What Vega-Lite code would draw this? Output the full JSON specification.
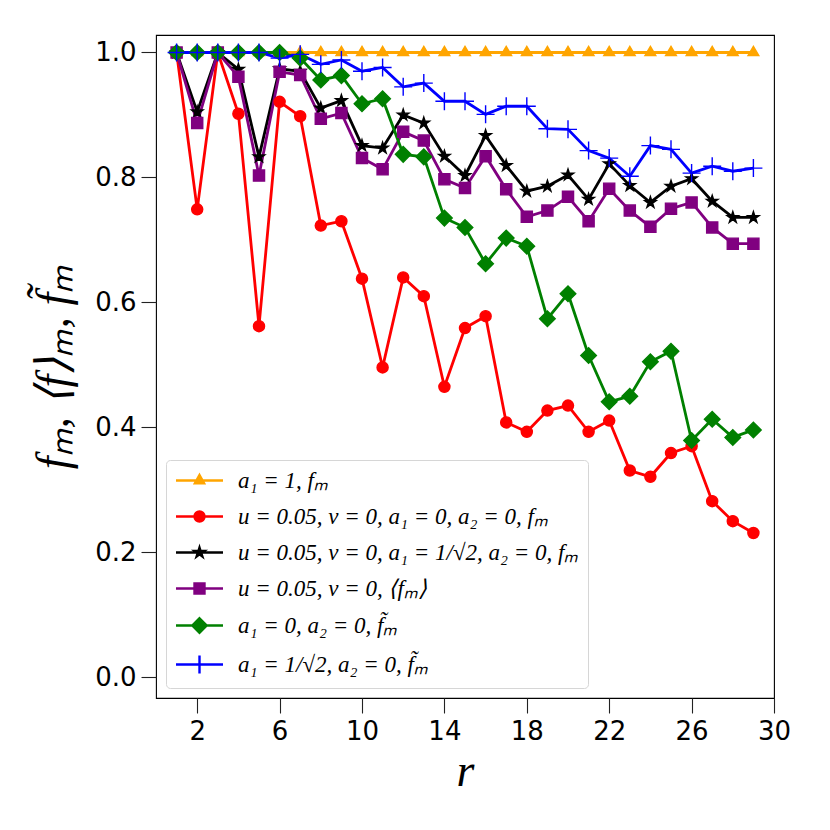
{
  "$schema": "https://vega.github.io/schema/vega-lite/v6.json",
  "autosize": {"type": "none"},
  "padding": {"left": 156, "top": 35, "right": 56, "bottom": 132},
  "width": 618,
  "height": 663,
  "background": "white",
  "data": {
    "values": [
      {"r": 1, "s1": 1, "s2": 1.0, "s3": 1.0, "s4": 1.0, "s5": 1.0, "s6": 1.0},
      {"r": 2, "s1": 1, "s2": 0.749, "s3": 0.905, "s4": 0.887, "s5": 1.0, "s6": 1.0},
      {"r": 3, "s1": 1, "s2": 1.0, "s3": 1.0, "s4": 1.0, "s5": 1.0, "s6": 1.0},
      {"r": 4, "s1": 1, "s2": 0.902, "s3": 0.973, "s4": 0.961, "s5": 1.0, "s6": 1.0},
      {"r": 5, "s1": 1, "s2": 0.562, "s3": 0.833, "s4": 0.803, "s5": 1.0, "s6": 1.0},
      {"r": 6, "s1": 1, "s2": 0.921, "s3": 0.974, "s4": 0.969, "s5": 1.0, "s6": 0.991},
      {"r": 7, "s1": 1, "s2": 0.898, "s3": 0.970, "s4": 0.964, "s5": 0.991, "s6": 0.997},
      {"r": 8, "s1": 1, "s2": 0.723, "s3": 0.911, "s4": 0.894, "s5": 0.956, "s6": 0.981},
      {"r": 9, "s1": 1, "s2": 0.730, "s3": 0.923, "s4": 0.903, "s5": 0.963, "s6": 0.988},
      {"r": 10, "s1": 1, "s2": 0.638, "s3": 0.851, "s4": 0.831, "s5": 0.918, "s6": 0.970},
      {"r": 11, "s1": 1, "s2": 0.496, "s3": 0.847, "s4": 0.813, "s5": 0.926, "s6": 0.976},
      {"r": 12, "s1": 1, "s2": 0.640, "s3": 0.900, "s4": 0.873, "s5": 0.837, "s6": 0.945},
      {"r": 13, "s1": 1, "s2": 0.610, "s3": 0.887, "s4": 0.859, "s5": 0.833, "s6": 0.951},
      {"r": 14, "s1": 1, "s2": 0.465, "s3": 0.834, "s4": 0.797, "s5": 0.735, "s6": 0.922},
      {"r": 15, "s1": 1, "s2": 0.559, "s3": 0.803, "s4": 0.783, "s5": 0.720, "s6": 0.922},
      {"r": 16, "s1": 1, "s2": 0.578, "s3": 0.867, "s4": 0.834, "s5": 0.662, "s6": 0.901},
      {"r": 17, "s1": 1, "s2": 0.408, "s3": 0.819, "s4": 0.781, "s5": 0.703, "s6": 0.914},
      {"r": 18, "s1": 1, "s2": 0.393, "s3": 0.778, "s4": 0.737, "s5": 0.690, "s6": 0.914},
      {"r": 19, "s1": 1, "s2": 0.427, "s3": 0.786, "s4": 0.747, "s5": 0.574, "s6": 0.878},
      {"r": 20, "s1": 1, "s2": 0.435, "s3": 0.804, "s4": 0.769, "s5": 0.614, "s6": 0.877},
      {"r": 21, "s1": 1, "s2": 0.393, "s3": 0.765, "s4": 0.730, "s5": 0.515, "s6": 0.843},
      {"r": 22, "s1": 1, "s2": 0.411, "s3": 0.822, "s4": 0.782, "s5": 0.441, "s6": 0.831},
      {"r": 23, "s1": 1, "s2": 0.331, "s3": 0.787, "s4": 0.747, "s5": 0.450, "s6": 0.802},
      {"r": 24, "s1": 1, "s2": 0.321, "s3": 0.760, "s4": 0.721, "s5": 0.505, "s6": 0.851},
      {"r": 25, "s1": 1, "s2": 0.359, "s3": 0.786, "s4": 0.750, "s5": 0.522, "s6": 0.845},
      {"r": 26, "s1": 1, "s2": 0.370, "s3": 0.798, "s4": 0.760, "s5": 0.379, "s6": 0.807},
      {"r": 27, "s1": 1, "s2": 0.282, "s3": 0.762, "s4": 0.720, "s5": 0.413, "s6": 0.818},
      {"r": 28, "s1": 1, "s2": 0.250, "s3": 0.736, "s4": 0.694, "s5": 0.384, "s6": 0.810},
      {"r": 29, "s1": 1, "s2": 0.231, "s3": 0.736, "s4": 0.694, "s5": 0.396, "s6": 0.815}
    ]
  },
  "transform": [
    {"fold": ["s1", "s2", "s3", "s4", "s5", "s6"], "as": ["series", "value"]}
  ],
  "encoding": {
    "x": {
      "field": "r",
      "type": "quantitative",
      "title": "r",
      "scale": {"domain": [0, 30], "nice": false, "zero": false},
      "axis": {
        "values": [2, 6, 10, 14, 18, 22, 26, 30],
        "titleFont": "Liberation Serif",
        "titleFontStyle": "italic",
        "titleFontWeight": "normal",
        "titleFontSize": 46,
        "titlePadding": 5
      }
    },
    "y": {
      "field": "value",
      "type": "quantitative",
      "title": "fₘ, ⟨f⟩ₘ, f̃ₘ",
      "scale": {"domain": [-0.033, 1.028], "nice": false, "zero": false},
      "axis": {
        "values": [0, 0.2, 0.4, 0.6, 0.8, 1.0],
        "format": ".1f",
        "titleFont": "Liberation Serif",
        "titleFontStyle": "italic",
        "titleFontWeight": "normal",
        "titleFontSize": 46,
        "titlePadding": 17
      }
    },
    "color": {
      "field": "series",
      "type": "nominal",
      "scale": {
        "domain": ["s1", "s2", "s3", "s4", "s5", "s6"],
        "range": ["#FFA500", "#FF0000", "#000000", "#800080", "#008000", "#0000FF"]
      }
    }
  },
  "layer": [
    {
      "mark": {"type": "line", "strokeWidth": 2.8},
      "encoding": {
        "color": {
          "field": "series",
          "type": "nominal",
          "legend": {
            "orient": "bottom-left",
            "offset": 10,
            "title": null,
            "padding": 9,
            "rowPadding": 12,
            "symbolSize": 400,
            "symbolOffset": 13,
            "labelOffset": 27,
            "labelLimit": 0,
            "labelFont": "Liberation Serif",
            "labelFontStyle": "italic",
            "labelFontSize": 23,
            "labelColor": "#000",
            "strokeColor": "#d6d6d6",
            "fillColor": "rgba(255,255,255,0.8)",
            "cornerRadius": 4,
            "labelExpr": "datum.value == 's1' ? 'a₁ = 1, fₘ' : datum.value == 's2' ? 'u = 0.05, v = 0, a₁ = 0, a₂ = 0, fₘ' : datum.value == 's3' ? 'u = 0.05, v = 0, a₁ = 1/√2, a₂ = 0, fₘ' : datum.value == 's4' ? 'u = 0.05, v = 0, ⟨fₘ⟩' : datum.value == 's5' ? 'a₁ = 0, a₂ = 0, f̃ₘ' : 'a₁ = 1/√2, a₂ = 0, f̃ₘ'",
            "encode": {
              "symbols": {
                "update": {
                  "shape": {"signal": "datum.value == 's1' ? 'M-2.35,0H2.35M0,-0.55L0.46,0.27L-0.46,0.27Z' : datum.value == 's2' ? 'M-2.35,0H2.35M0.5,0A0.5,0.5,0,1,1,-0.5,0A0.5,0.5,0,1,1,0.5,0Z' : datum.value == 's3' ? 'M-2.35,0H2.35M0,-0.5L0.11,-0.15L0.48,-0.15L0.18,0.06L0.29,0.4L0,0.19L-0.29,0.4L-0.18,0.06L-0.48,-0.15L-0.11,-0.15Z' : datum.value == 's4' ? 'M-2.35,0H2.35M-0.5,-0.5H0.5V0.5H-0.5Z' : datum.value == 's5' ? 'M-2.35,0H2.35M0,-0.72L0.72,0L0,0.72L-0.72,0Z' : 'M-2.35,0H2.35M0,-0.9V0.9'"},
                  "fill": {"scale": "color", "field": "value"},
                  "stroke": {"scale": "color", "field": "value"},
                  "strokeWidth": {"value": 2.4},
                  "opacity": {"value": 1}
                }
              }
            }
          }
        }
      }
    },
    {
      "mark": {"type": "point", "filled": true, "opacity": 1, "size": 400, "strokeWidth": 1.4},
      "encoding": {
        "color": {"field": "series", "type": "nominal", "legend": null},
        "shape": {
          "field": "series",
          "type": "nominal",
          "legend": null,
          "scale": {
            "domain": ["s1", "s2", "s3", "s4", "s5", "s6"],
            "range": [
              "M0,-0.62L0.54,0.31L-0.54,0.31Z",
              "M0.555,0A0.555,0.555,0,1,1,-0.555,0A0.555,0.555,0,1,1,0.555,0Z",
              "M0,-0.6L0.135,-0.185L0.57,-0.185L0.22,0.07L0.353,0.485L0,0.23L-0.353,0.485L-0.22,0.07L-0.57,-0.185L-0.135,-0.185Z",
              "M-0.555,-0.555H0.555V0.555H-0.555Z",
              "M0,-0.78L0.78,0L0,0.78L-0.78,0Z",
              "M-0.9,0H0.9M0,-0.9V0.9"
            ]
          }
        },
        "stroke": {
          "field": "series",
          "type": "nominal",
          "legend": null,
          "scale": {
            "domain": ["s1", "s2", "s3", "s4", "s5", "s6"],
            "range": ["#FFA500", "#FF0000", "#000000", "#800080", "#008000", "#0000FF"]
          }
        }
      }
    }
  ],
  "resolve": {"legend": {"color": "independent"}},
  "config": {
    "view": {"stroke": "#000", "strokeWidth": 1.1},
    "axis": {
      "domain": false,
      "grid": false,
      "ticks": true,
      "tickSize": 15,
      "tickColor": "#222",
      "tickWidth": 1.1,
      "labelFont": "DejaVu Sans",
      "labelFontSize": 26,
      "labelColor": "#000",
      "labelPadding": 5,
      "labelFlush": false,
      "labelOverlap": false,
      "labelBound": false,
      "titleColor": "#000"
    }
  }
}
